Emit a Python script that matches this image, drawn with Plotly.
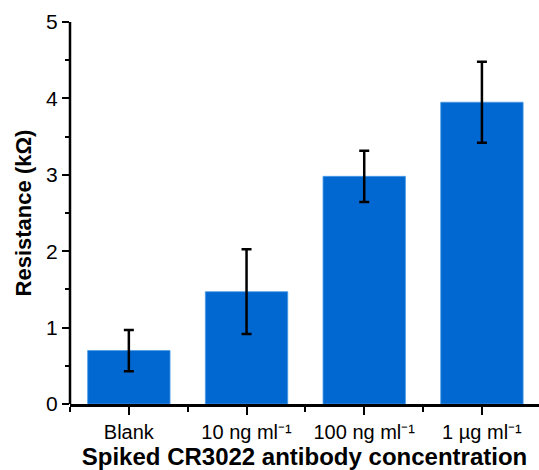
import plotly.graph_objects as go

categories = ["Blank", "10 ng ml⁻¹", "100 ng ml⁻¹", "1 µg ml⁻¹"]
resistance = [0.70, 1.47, 2.98, 3.95]
errors = [0.27, 0.555, 0.335, 0.53]
y_ticks = [0, 1, 2, 3, 4, 5]

x_pos = list(range(len(categories)))

fig = go.Figure()
fig.add_trace(go.Bar(
    x=x_pos, y=resistance, width=0.7,
    marker=dict(color="#0068d0", line=dict(color="#4a9be6", width=0.8)),
    error_y=dict(type="data", array=errors, visible=True, color="black",
                 thickness=2.5, width=5),
))

font = "Liberation Sans, Arial, sans-serif"
fig.update_layout(
    width=539, height=470,
    margin=dict(l=70, r=0, t=22, b=66),
    plot_bgcolor="white", paper_bgcolor="white",
    showlegend=False,
    font=dict(family=font, size=20, color="black"),
)
fig.update_xaxes(
    range=[-0.5, 3.485],
    tickmode="array", tickvals=x_pos, ticktext=categories,
    showline=True, linecolor="black", linewidth=2.5,
    ticks="outside", ticklen=8, tickwidth=2, tickcolor="black",
    minor=dict(tickmode="array", tickvals=[-0.5, 0.5, 1.5, 2.5, 3.5],
               ticks="outside", ticklen=5, tickwidth=2, tickcolor="black"),
    showgrid=False, zeroline=False,
    tickfont=dict(size=20),
    title=dict(text="<b>Spiked CR3022 antibody concentration</b>",
               font=dict(size=24), standoff=0),
)
fig.update_yaxes(
    range=[0, 5],
    tickmode="array", tickvals=y_ticks,
    showline=False,
    ticks="outside", ticklen=7, tickwidth=2, tickcolor="black",
    minor=dict(dtick=0.5, ticks="outside", ticklen=4, tickwidth=2, tickcolor="black"),
    showgrid=False, zeroline=False,
    tickfont=dict(size=21),
    title=dict(text="<b>Resistance (kΩ)</b>", font=dict(size=22), standoff=8),
)
# left axis spine
fig.add_shape(type="line", xref="paper", yref="paper", x0=0, x1=0, y0=0, y1=1,
              line=dict(color="black", width=2.5), layer="above")

fig.write_html("out.html")
